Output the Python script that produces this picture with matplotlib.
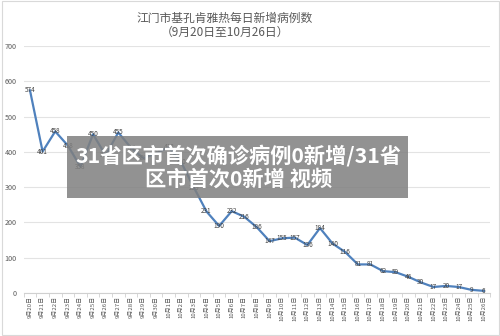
import matplotlib
matplotlib.use("Agg")
import matplotlib.pyplot as plt
from matplotlib.patches import Rectangle

plt.rcParams['font.family'] = ['Noto Sans CJK SC', 'DejaVu Sans']

# daily new cases, 9/20 .. 10/26 (values under the banner are estimates)
dates = ["9月%d日" % d for d in range(20, 31)] + ["10月%d日" % d for d in range(1, 27)]
cases = [574, 401, 458, 418, 358, 450, 390, 455, 412, 382, 396, 413, 370, 299,
         231, 190, 232, 216, 186, 147, 155, 157, 136, 184, 140, 116, 81, 81,
         62, 59, 46, 30, 17, 20, 17, 9, 6]
yticks = [0, 100, 200, 300, 400, 500, 600, 700]

title = "江门市基孔肯雅热每日新增病例数"
subtitle = "（9月20日至10月26日）"
banner = "31省区市首次确诊病例0新增/31省\n区市首次0新增 视频"

fig = plt.figure(figsize=(5, 3.36), dpi=100)
fig.patch.set_facecolor("white")
ax = fig.add_axes([0.0474, 0.128, 0.933, 0.735])

x = list(range(len(cases)))
ax.plot(x, cases, color="#4f81bd", lw=1.6, solid_joinstyle="round", zorder=3)
for i, v in zip(x, cases):
    ax.text(i, v, str(v), ha="center", va="center", fontsize=4.6,
            color="#404040", zorder=4)

ax.set_xlim(-0.5, len(cases) - 0.5)
ax.set_ylim(0, 700)
ax.set_yticks(yticks)
ax.set_yticklabels([str(t) for t in yticks])
ax.grid(axis="y", color="#e3e3e3", lw=0.8)
ax.set_axisbelow(True)
ax.tick_params(axis="y", length=0, labelsize=5.2, labelcolor="#595959", pad=5)

ax.set_xticks(x)
ax.set_xticklabels(dates, rotation=90, fontsize=4.3, color="#595959")
ax.set_xticks([i - 0.5 for i in range(len(cases) + 1)], minor=True)
ax.tick_params(axis="x", which="major", length=0, pad=2)
ax.tick_params(axis="x", which="minor", length=3, color="#d0d0d0", width=0.6)

for s in ["top", "right", "left"]:
    ax.spines[s].set_visible(False)
ax.spines["bottom"].set_color("#d0d0d0")
ax.spines["bottom"].set_linewidth(0.8)

fig.text(0.45, 0.946, title, ha="center", va="center", fontsize=8.5, color="#595959")
fig.text(0.45, 0.903, subtitle, ha="center", va="center", fontsize=8.5, color="#595959")

# outer frame
fig.patches.append(Rectangle((0.003, 0.004), 0.994, 0.992, transform=fig.transFigure,
                             fill=False, edgecolor="#d9d9d9", lw=0.8))

# overlay banner
fig.patches.append(Rectangle((0.134, 0.41), 0.682, 0.185, transform=fig.transFigure,
                             facecolor="#7f7f7f", alpha=0.85, edgecolor="none", zorder=10))
fig.text(0.477, 0.503, banner, ha="center", va="center", fontsize=15.3,
         fontweight="bold", color="white", linespacing=1.15, zorder=11)

fig.savefig("out.png", dpi=100)
